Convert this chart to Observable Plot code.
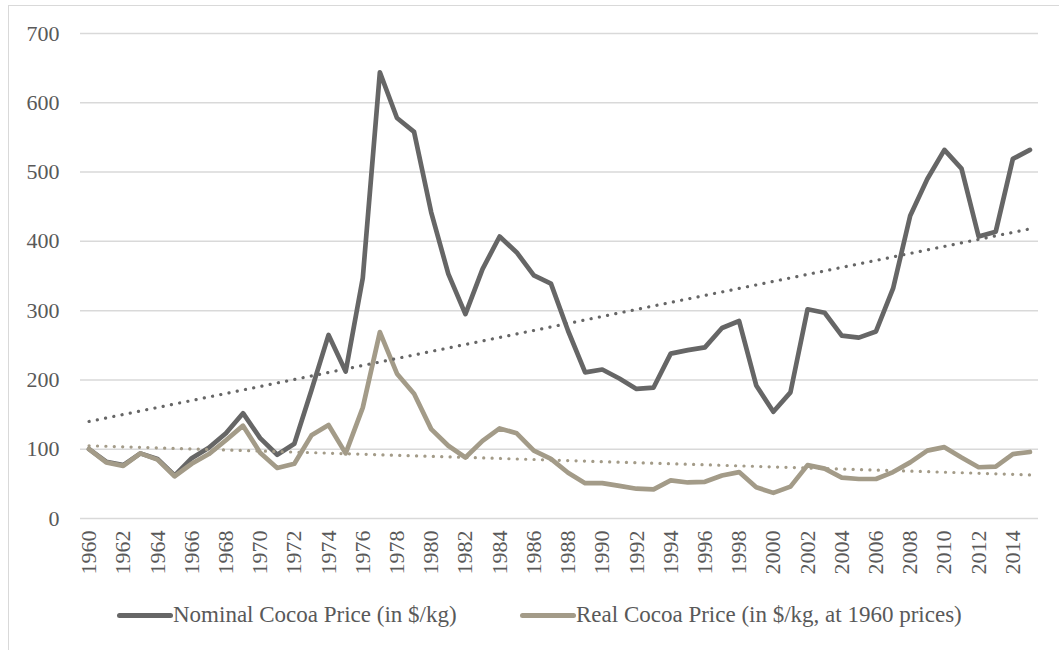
<!DOCTYPE html>
<html>
<head>
<meta charset="utf-8">
<script src="https://cdn.jsdelivr.net/npm/d3@7"></script>
<script src="https://cdn.jsdelivr.net/npm/@observablehq/plot@0.6"></script>
<style>
  html, body { margin: 0; padding: 0; background: #fff; width: 1059px; height: 650px; overflow: hidden; }
  #frame { position: absolute; left: 8px; top: 5px; width: 1070px; height: 660px; border: 1.5px solid #d9d9d9; box-sizing: border-box; }
  #chart { position: absolute; left: 0; top: 0; }
  .legend { position: absolute; top: 602px; display: flex; align-items: center; font-family: "Times New Roman", "Liberation Serif", "DejaVu Serif", serif; font-size: 23px; line-height: 26px; color: #595959; white-space: nowrap; }
  .swatch { display: inline-block; width: 56px; height: 5px; border-radius: 3px; }
  #chart svg text { font-family: "Times New Roman", "Liberation Serif", "DejaVu Serif", serif !important; }
</style>
</head>
<body>
<div id="frame"></div>
<div id="chart"></div>
<div class="legend" id="leg1" style="left:117px"><span class="swatch" style="background:#666666"></span><span>Nominal Cocoa Price (in $/kg)</span></div>
<div class="legend" id="leg2" style="left:520px"><span class="swatch" style="background:#a39b88"></span><span>Real Cocoa Price (in $/kg, at 1960 prices)</span></div>
<script>
const years = [1960,1961,1962,1963,1964,1965,1966,1967,1968,1969,1970,1971,1972,1973,1974,1975,1976,1977,1978,1979,
  1980,1981,1982,1983,1984,1985,1986,1987,1988,1989,1990,1991,1992,1993,1994,1995,1996,1997,1998,1999,
  2000,2001,2002,2003,2004,2005,2006,2007,2008,2009,2010,2011,2012,2013,2014,2015];
const nominal = [100,82,77,94,86,62,87,102,123,152,116,92,108,185,265,212,347,644,578,558,
  442,353,295,360,407,384,351,339,271,211,215,202,187,189,238,243,247,275,285,192,
  154,182,302,297,264,261,270,332,437,490,532,505,407,414,519,532];
const real = [100,81,76,94,85,61,79,93,113,134,95,73,79,120,135,94,160,269,209,180,
  129,105,88,112,130,123,98,86,66,51,51,47,43,42,55,52,53,62,67,45,
  37,46,77,72,59,57,57,67,81,98,103,88,74,75,93,96];
// Linear trend lines, endpoints
const trendYears = [1960, 2015];
const nominalTrend = [140, 418];
const realTrend = [105, 63];
const xTicks = [1960,1962,1964,1966,1968,1970,1972,1974,1976,1978,1980,1982,1984,1986,1988,1990,1992,1994,1996,1998,
  2000,2002,2004,2006,2008,2010,2012,2014];
const yTicks = [0,100,200,300,400,500,600,700];
const seriesNames = ["Nominal Cocoa Price (in $/kg)", "Real Cocoa Price (in $/kg, at 1960 prices)"];
const colors = ["#666666", "#a39b88"];

const nomData = years.map((yr, i) => ({year: yr, value: nominal[i]}));
const realData = years.map((yr, i) => ({year: yr, value: real[i]}));
const nomTrendData = trendYears.map((yr, i) => ({year: yr, value: nominalTrend[i]}));
const realTrendData = trendYears.map((yr, i) => ({year: yr, value: realTrend[i]}));

const font = "'Times New Roman', 'Liberation Serif', 'DejaVu Serif', serif";
const chart = Plot.plot({
  width: 1059,
  height: 590,
  marginLeft: 80,
  marginRight: 21,
  marginTop: 33,
  marginBottom: 72,
  style: {fontFamily: font, fontSize: "22px", color: "#595959", background: "transparent", overflow: "visible"},
  x: {type: "linear", domain: [1959.5, 2015.5]},
  y: {domain: [0, 700]},
  marks: [
    Plot.gridY(yTicks, {stroke: "#d9d9d9", strokeOpacity: 1, strokeWidth: 1.5}),
    Plot.axisY(yTicks, {tickSize: 0, tickPadding: 21, fontSize: 22, label: null, tickFormat: d => String(d)}),
    Plot.axisX(xTicks, {tickSize: 0, tickRotate: -90, tickPadding: 12, fontSize: 22, label: null, tickFormat: d => String(d)}),
    Plot.line(nomData, {x: "year", y: "value", stroke: colors[0], strokeWidth: 4.7, strokeLinejoin: "round", strokeLinecap: "round"}),
    Plot.line(realData, {x: "year", y: "value", stroke: colors[1], strokeWidth: 4.7, strokeLinejoin: "round", strokeLinecap: "round"}),
    Plot.line(nomTrendData, {x: "year", y: "value", stroke: colors[0], strokeWidth: 3.2, strokeDasharray: "0.1 8.3", strokeLinecap: "round"}),
    Plot.line(realTrendData, {x: "year", y: "value", stroke: colors[1], strokeWidth: 3.2, strokeDasharray: "0.1 8.3", strokeLinecap: "round"})
  ]
});
document.getElementById("chart").appendChild(chart);
</script>
</body>
</html>
